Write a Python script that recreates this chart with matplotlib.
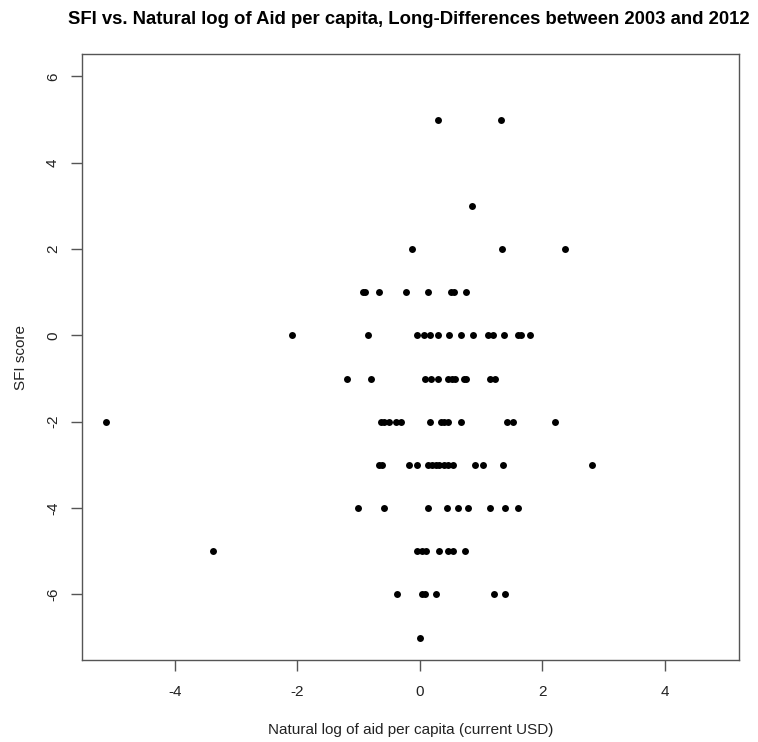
import numpy as np
import matplotlib.pyplot as plt

plt.rcParams['font.family'] = ['Liberation Sans', 'DejaVu Sans']
plt.rcParams['axes.unicode_minus'] = False

# SFI score rows and the log-aid values read for each row
sfi_5 = [0.30, 1.32]
sfi_3 = [0.86]
sfi_2 = [-0.12, 1.34, 2.37]
sfi_1 = [-0.93, -0.89, -0.66, -0.22, 0.13, 0.51, 0.56, 0.76]
sfi_0 = [-2.09, -0.85, -0.04, 0.07, 0.17, 0.29, 0.47, 0.68, 0.87,
         1.11, 1.20, 1.37, 1.60, 1.66, 1.80]
sfi_m1 = [-1.18, -0.79, 0.09, 0.19, 0.29, 0.46, 0.52, 0.58, 0.72, 0.76,
          1.15, 1.23]
sfi_m2 = [-5.12, -0.64, -0.58, -0.50, -0.38, -0.31, 0.17, 0.34, 0.40, 0.46,
          0.68, 1.42, 1.52, 2.20]
sfi_m3 = [-0.66, -0.61, -0.18, -0.05, 0.14, 0.20, 0.27, 0.31, 0.39, 0.46,
          0.55, 0.90, 1.03, 1.36, 2.81]
sfi_m4 = [-1.00, -0.58, 0.13, 0.44, 0.62, 0.79, 1.14, 1.39, 1.60]
sfi_m5 = [-3.38, -0.04, 0.03, 0.10, 0.32, 0.46, 0.55, 0.74]
sfi_m6 = [-0.37, 0.03, 0.08, 0.27, 1.21, 1.39]
sfi_m7 = [0.00]

rows = {5: sfi_5, 3: sfi_3, 2: sfi_2, 1: sfi_1, 0: sfi_0, -1: sfi_m1,
        -2: sfi_m2, -3: sfi_m3, -4: sfi_m4, -5: sfi_m5, -6: sfi_m6, -7: sfi_m7}

aid = np.concatenate([np.array(v) for v in rows.values()])
sfi = np.concatenate([np.full(len(v), k) for k, v in rows.items()])

fig = plt.figure(figsize=(7.58, 7.42), dpi=100)
ax = fig.add_axes([81.5 / 758, 82 / 742, (739 - 81.5) / 758, (660 - 54) / 742])

ax.plot(aid, sfi, 'o', color='black', markersize=5, markeredgewidth=0)

ax.set_xlim(-5.52, 5.21)
ax.set_ylim(-7.52, 6.52)
ax.set_xticks([-4, -2, 0, 2, 4])
ax.set_yticks([-6, -4, -2, 0, 2, 4, 6])
ax.set_yticklabels(['-6', '-4', '-2', '0', '2', '4', '6'], rotation=90, va='center')

for s in ax.spines.values():
    s.set_color('#555555')
    s.set_linewidth(1)
ax.tick_params(length=8, width=1, color='#555555', labelsize=11, labelcolor='#222222', pad=10)
ax.tick_params(axis='y', pad=7.5)

ax.set_xlabel('Natural log of aid per capita (current USD)', fontsize=11, color='#222222', labelpad=17)
ax.set_ylabel('SFI score', fontsize=11, color='#222222', labelpad=13)
fig.text(0.5 + 30 / 758, 1 - 19 / 742, 'SFI vs. Natural log of Aid per capita, Long-Differences between 2003 and 2012',
         ha='center', va='center', fontsize=13.3, fontweight='bold')

fig.savefig('out.png', dpi=100)
